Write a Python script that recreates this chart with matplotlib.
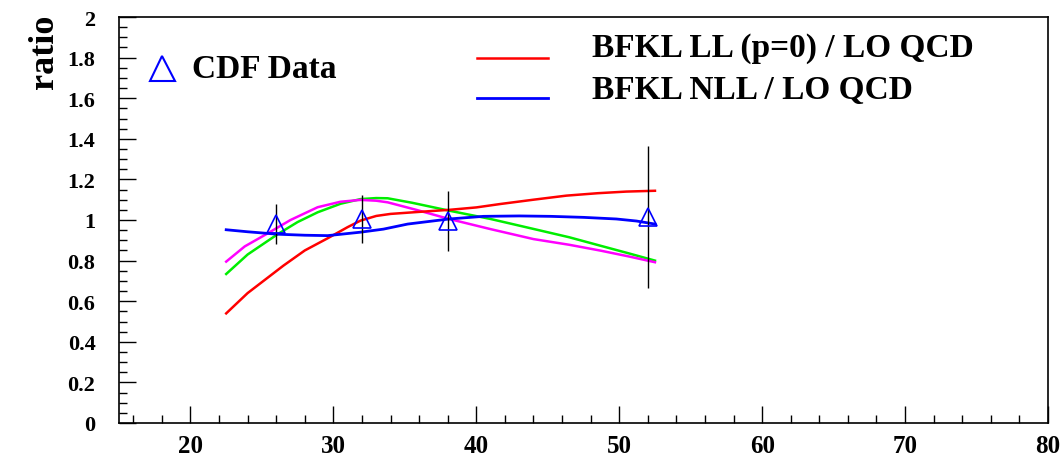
import matplotlib
matplotlib.use("Agg")
import matplotlib.pyplot as plt
from matplotlib.ticker import MultipleLocator, FuncFormatter
from matplotlib.lines import Line2D

plt.rcParams['font.family'] = ['Liberation Serif', 'DejaVu Serif']
plt.rcParams['font.weight'] = 'bold'

# CDF data
cdf_x = [26, 32, 38, 52]
cdf_y = [0.98, 1.005, 0.995, 1.015]
cdf_err = [0.10, 0.12, 0.15, 0.35]

# BFKL LL (p=0) / LO QCD  (red)
ll_x = [22.5, 24.0, 26.5, 28.0, 29.6, 31.0, 31.9, 33.0, 34.0, 36.0, 38.1, 40.0, 41.7, 44.0, 46.3, 48.5, 50.5, 52.5]
ll_y = [0.54, 0.64, 0.775, 0.85, 0.91, 0.965, 0.997, 1.02, 1.03, 1.04, 1.05, 1.062, 1.079, 1.10, 1.12, 1.132, 1.14, 1.144]

# BFKL NLL / LO QCD  (blue)
nll_x = [22.5, 24.0, 26.1, 28.0, 29.6, 31.9, 33.5, 35.2, 38.1, 40.5, 43.0, 45.2, 47.5, 49.8, 51.2, 52.5]
nll_y = [0.952, 0.942, 0.93, 0.925, 0.923, 0.94, 0.955, 0.98, 1.005, 1.018, 1.02, 1.018, 1.013, 1.005, 0.995, 0.98]

# green curve
g_x = [22.5, 24.0, 26.1, 27.5, 28.9, 30.5, 31.9, 33.0, 33.8, 35.5, 38.1, 41.0, 44.0, 46.5, 48.7, 50.7, 52.5]
g_y = [0.734, 0.83, 0.93, 0.99, 1.038, 1.08, 1.103, 1.108, 1.107, 1.085, 1.046, 1.005, 0.956, 0.915, 0.873, 0.835, 0.80]

# magenta curve
m_x = [22.5, 23.8, 25.3, 27.0, 28.9, 30.5, 31.9, 33.0, 33.8, 35.8, 38.1, 41.0, 44.0, 46.5, 48.7, 50.7, 52.5]
m_y = [0.795, 0.87, 0.93, 1.0, 1.063, 1.09, 1.099, 1.095, 1.087, 1.05, 1.005, 0.955, 0.906, 0.878, 0.849, 0.82, 0.792]

fig = plt.figure(figsize=(10.64, 4.6), dpi=100)
ax = fig.add_axes([119/1064, 36/460, (1048-119)/1064, (424-18)/460])

ax.plot(g_x, g_y, color='#00ee00', lw=1.8, zorder=2)
ax.plot(m_x, m_y, color='#ff00ff', lw=1.8, zorder=2)
ax.plot(ll_x, ll_y, color='#ff0000', lw=1.8, zorder=3)
ax.plot(nll_x, nll_y, color='#0000ff', lw=2.0, zorder=3)

ax.errorbar(cdf_x, cdf_y, yerr=cdf_err, fmt='none', ecolor='black', elinewidth=1.0, capsize=0, zorder=4)
ax.plot(cdf_x, cdf_y, linestyle='none', marker='^', markersize=13, markerfacecolor='none',
        markeredgecolor='#0000ff', markeredgewidth=1.2, zorder=5)

ax.set_xlim(15, 80)
ax.set_ylim(0, 2)
ax.xaxis.set_major_locator(MultipleLocator(10))
ax.xaxis.set_minor_locator(MultipleLocator(2))
ax.yaxis.set_major_locator(MultipleLocator(0.2))
ax.yaxis.set_minor_locator(MultipleLocator(0.05))
ax.tick_params(axis='both', which='both', direction='in', top=False, right=False, color='black')
ax.tick_params(axis='y', which='major', length=12, width=1, pad=17, labelsize=16)
ax.tick_params(axis='y', which='minor', length=6, width=1)
ax.tick_params(axis='x', which='major', length=12, width=1, pad=8, labelsize=18)
ax.tick_params(axis='x', which='minor', length=6, width=1)
for s in ax.spines.values():
    s.set_linewidth(1.2)
    s.set_color('black')

ax.yaxis.set_major_formatter(FuncFormatter(lambda v, pos: '%g' % round(v, 2)))
for lab in ax.get_xticklabels() + ax.get_yticklabels():
    lab.set_fontweight('bold')

fig.text(45/1064, 1 - 52/460, 'ratio', rotation=90, ha='center', va='center', fontsize=26, fontweight='bold')

# legend: CDF Data
fig.lines.append(Line2D([162/1064], [1 - 69/460], transform=fig.transFigure, linestyle='none', marker='^',
                        markersize=18, markerfacecolor='none', markeredgecolor='#0000ff', markeredgewidth=1.5))
fig.text(192/1064, 1 - 69/460, 'CDF Data', ha='left', va='center', fontsize=24, fontweight='bold')

# legend: curves
fig.lines.append(Line2D([477/1064, 548/1064], [1 - 59/460, 1 - 59/460], transform=fig.transFigure,
                        color='#ff0000', lw=1.8))
fig.lines.append(Line2D([477/1064, 548/1064], [1 - 99/460, 1 - 99/460], transform=fig.transFigure,
                        color='#0000ff', lw=2.0))
fig.text(592/1064, 1 - 49/460, 'BFKL LL (p=0) / LO QCD', ha='left', va='center', fontsize=24, fontweight='bold')
fig.text(592/1064, 1 - 90/460, 'BFKL NLL / LO QCD', ha='left', va='center', fontsize=24, fontweight='bold')

fig.savefig('out.png', dpi=100)
